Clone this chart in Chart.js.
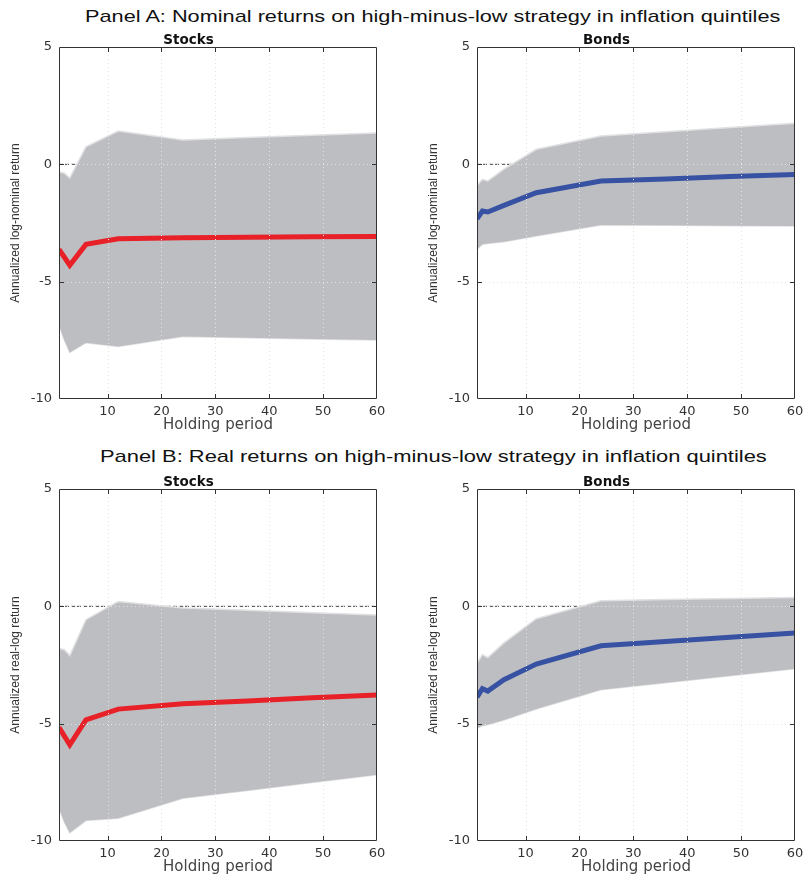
<!DOCTYPE html>
<html>
<head>
<meta charset="utf-8">
<script src="https://cdn.jsdelivr.net/npm/chart.js@4.4.1/dist/chart.umd.min.js"></script>
<style>
html, body { margin: 0; padding: 0; background: #fff; width: 804px; height: 877px; overflow: hidden; }
.panel-title { position: absolute; left: 0; top: 0; white-space: nowrap; font-family: "Liberation Sans", Arial, sans-serif; font-size: 17px; color: #111; transform-origin: 0 50%; }
.plot { position: absolute; width: 400px; height: 412px; }
</style>
</head>
<body>
<div id="titleA" class="panel-title">Panel A: Nominal returns on high-minus-low strategy in inflation quintiles</div>
<div id="titleB" class="panel-title">Panel B: Real returns on high-minus-low strategy in inflation quintiles</div>
<div class="plot" style="left:0;top:28px"><canvas id="nomStocks" width="400" height="412"></canvas></div>
<div class="plot" style="left:418px;top:28px"><canvas id="nomBonds" width="400" height="412"></canvas></div>
<div class="plot" style="left:0;top:470px"><canvas id="realStocks" width="400" height="412"></canvas></div>
<div class="plot" style="left:418px;top:470px"><canvas id="realBonds" width="400" height="412"></canvas></div>
<script>
// holding period (months)
const holding = [1, 2, 3, 6, 12, 24, 36, 48, 60];

// Panel A - nominal
const nomStocksMean  = [-3.62, -3.96, -4.30, -3.41, -3.17, -3.13, -3.11, -3.09, -3.07];
const nomStocksUpper = [-0.32, -0.38, -0.58, 0.75, 1.42, 1.04, 1.14, 1.24, 1.34];
const nomStocksLower = [-6.85, -7.50, -8.02, -7.60, -7.76, -7.34, -7.39, -7.44, -7.49];

const nomBondsMean  = [-2.32, -1.99, -2.03, -1.75, -1.21, -0.71, -0.62, -0.52, -0.43];
const nomBondsUpper = [-0.90, -0.64, -0.71, -0.20, 0.64, 1.21, 1.39, 1.57, 1.75];
const nomBondsLower = [-3.62, -3.41, -3.37, -3.30, -3.05, -2.59, -2.60, -2.62, -2.63];

// Panel B - real
const realStocksMean  = [-5.16, -5.53, -5.90, -4.84, -4.38, -4.15, -4.03, -3.90, -3.78];
const realStocksUpper = [-1.80, -1.85, -2.10, -0.57, 0.21, -0.07, -0.17, -0.27, -0.37];
const realStocksLower = [-8.60, -9.20, -9.65, -9.13, -9.03, -8.18, -7.85, -7.51, -7.18];

const realBondsMean  = [-3.87, -3.51, -3.61, -3.13, -2.46, -1.68, -1.50, -1.32, -1.14];
const realBondsUpper = [-2.42, -2.06, -2.18, -1.56, -0.53, 0.24, 0.29, 0.33, 0.38];
const realBondsLower = [-5.19, -5.09, -5.05, -4.84, -4.38, -3.56, -3.26, -2.96, -2.66];

const yTicks = [-10, -5, 0, 5];
const xTicks = [10, 20, 30, 40, 50, 60];

const bandColor = 'rgb(189, 190, 194)';
const edgeColor = 'rgb(225, 225, 227)';
const gridColor = 'rgb(228, 228, 228)';
const red = 'rgb(232, 32, 40)';
const blue = 'rgb(56, 82, 163)';

// dotted grid on top of the band + box with inward ticks (matlab style)
const frame = {
    id: 'frame',
    afterDatasetsDraw(chart) {
        const { ctx, chartArea: a, scales: { x, y } } = chart;
        ctx.save();
        ctx.lineWidth = 1;
        ctx.strokeStyle = gridColor;
        ctx.setLineDash([1, 3]);
        ctx.beginPath();
        xTicks.forEach(v => {
            if (v <= x.min || v >= x.max) return;
            const px = Math.round(x.getPixelForValue(v)) + 0.5;
            ctx.moveTo(px, a.top);
            ctx.lineTo(px, a.bottom);
        });
        yTicks.forEach(v => {
            if (v <= y.min || v >= y.max) return;
            const py = Math.round(y.getPixelForValue(v)) + 0.5;
            ctx.moveTo(a.left, py);
            ctx.lineTo(a.right, py);
        });
        ctx.stroke();

        ctx.setLineDash([]);
        ctx.strokeStyle = '#333';
        ctx.beginPath();
        ctx.rect(Math.round(a.left) + 0.5, Math.round(a.top) + 0.5,
                 Math.round(a.width) - 1, Math.round(a.height) - 1);
        const len = 5;
        xTicks.forEach(v => {
            if (v <= x.min || v >= x.max) return;
            const px = Math.round(x.getPixelForValue(v)) + 0.5;
            ctx.moveTo(px, a.top); ctx.lineTo(px, a.top + len);
            ctx.moveTo(px, a.bottom); ctx.lineTo(px, a.bottom - len);
        });
        yTicks.forEach(v => {
            if (v <= y.min || v >= y.max) return;
            const py = Math.round(y.getPixelForValue(v)) + 0.5;
            ctx.moveTo(a.left, py); ctx.lineTo(a.left + len, py);
            ctx.moveTo(a.right, py); ctx.lineTo(a.right - len, py);
        });
        ctx.stroke();
        ctx.restore();
    }
};

function pts(arr) {
    return holding.map((h, i) => ({ x: h, y: arr[i] }));
}

function makeChart(id, subtitle, yTitle, mean, upper, lower, color) {
    const zero = [{ x: holding[0], y: 0 }, { x: holding[holding.length - 1], y: 0 }];
    return new Chart(document.getElementById(id), {
        type: 'line',
        data: {
            datasets: [
                { data: pts(upper), borderColor: edgeColor, borderWidth: 1.5, backgroundColor: bandColor,
                  fill: '+1', pointRadius: 0, tension: 0, order: 2 },
                { data: pts(lower), borderColor: edgeColor, borderWidth: 1.5, fill: false,
                  pointRadius: 0, tension: 0, order: 2 },
                { data: pts(mean), borderColor: color, borderWidth: 5, fill: false,
                  pointRadius: 0, tension: 0, order: 1, borderJoinStyle: 'miter' },
                { data: zero, borderColor: '#444', borderWidth: 1, borderDash: [4, 2], fill: false,
                  pointRadius: 0, order: 3 }
            ]
        },
        options: {
            responsive: false,
            animation: false,
            layout: { padding: { left: 0, right: 23, top: 0, bottom: 0 } },
            plugins: {
                legend: { display: false },
                tooltip: { enabled: false },
                title: {
                    display: true,
                    text: subtitle,
                    color: '#111',
                    font: { family: 'DejaVu Sans', weight: 'bold', size: 13.5, lineHeight: 1 },
                    padding: { top: 5.5, bottom: 0 }
                }
            },
            scales: {
                x: {
                    type: 'linear',
                    min: 1, max: 60,
                    afterBuildTicks: s => { s.ticks = xTicks.map(v => ({ value: v })); },
                    ticks: { color: '#333', font: { family: 'DejaVu Sans', size: 13 }, padding: 5, maxRotation: 0 },
                    grid: { display: false, drawTicks: false },
                    border: { display: false },
                    title: {
                        display: true, text: 'Holding period', color: '#444',
                        font: { family: 'DejaVu Sans', size: 15, lineHeight: 1.2 },
                        padding: { top: 0, bottom: 6 }
                    },
                    afterFit: s => { s.height = 41; }
                },
                y: {
                    min: -10, max: 5,
                    afterBuildTicks: s => { s.ticks = yTicks.map(v => ({ value: v })); },
                    ticks: { color: '#333', font: { family: 'DejaVu Sans', size: 13 }, padding: 7 },
                    grid: { display: false, drawTicks: false },
                    border: { display: false },
                    title: {
                        display: true, text: yTitle, color: '#333',
                        font: { family: 'Liberation Sans', size: 12, lineHeight: 1.2 },
                        padding: { top: 8, bottom: 0 }
                    },
                    afterFit: s => { s.width = 59; }
                }
            }
        },
        plugins: [frame]
    });
}

makeChart('nomStocks', 'Stocks', 'Annualized log-nominal return', nomStocksMean, nomStocksUpper, nomStocksLower, red);
makeChart('nomBonds', 'Bonds', 'Annualized log-nominal return', nomBondsMean, nomBondsUpper, nomBondsLower, blue);
makeChart('realStocks', 'Stocks', 'Annualized real-log return', realStocksMean, realStocksUpper, realStocksLower, red);
makeChart('realBonds', 'Bonds', 'Annualized real-log return', realBondsMean, realBondsUpper, realBondsLower, blue);

// panel titles: stretch to the width seen in the figure
function placeTitle(id, cx, cy, width) {
    const el = document.getElementById(id);
    const w = el.offsetWidth, h = el.offsetHeight;
    el.style.left = (cx - width / 2) + 'px';
    el.style.top = (cy - h / 2) + 'px';
    el.style.transform = 'scaleX(' + (width / w) + ')';
}
placeTitle('titleA', 432.5, 17, 695);
placeTitle('titleB', 433.5, 457, 667);
</script>
</body>
</html>
